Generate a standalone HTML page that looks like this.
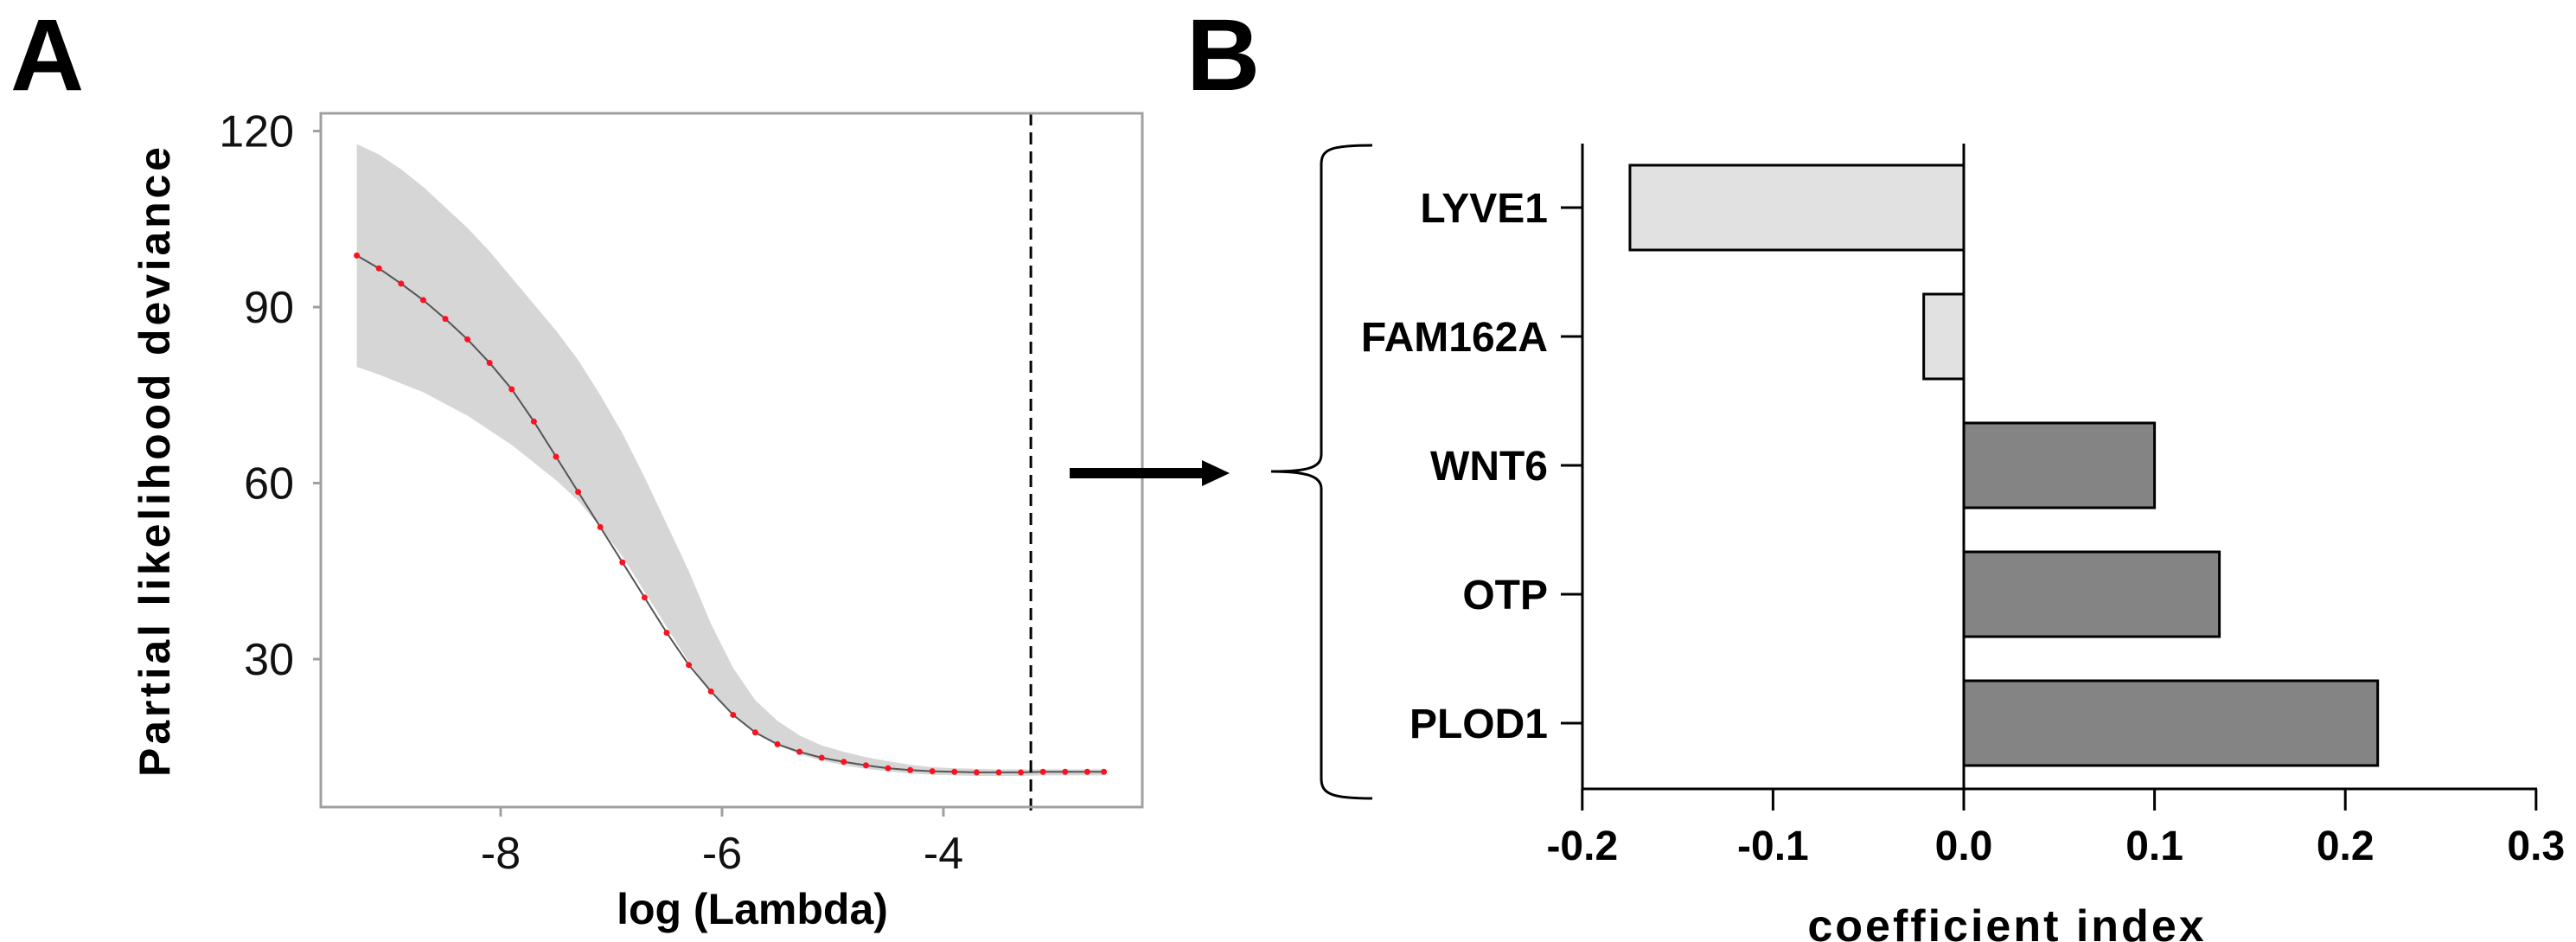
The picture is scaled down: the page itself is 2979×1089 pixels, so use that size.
<!DOCTYPE html>
<html><head><meta charset="utf-8">
<style>
html,body{margin:0;padding:0;background:#fff;}
svg{display:block;}
text{font-family:"Liberation Sans",Arial,sans-serif;}
.nar{font-family:"Liberation Sans Narrow","Liberation Sans",Arial,sans-serif;font-weight:bold;}
</style></head>
<body>
<svg id="fig" width="2979" height="1089" viewBox="0 0 2979 1089" xmlns="http://www.w3.org/2000/svg">
<text x="12" y="104" font-size="118" font-weight="bold">A</text>
<text x="1372" y="104" font-size="118" font-weight="bold">B</text>
<g id="pa"></g>
<g id="pb"></g>
<g>
<line x1="1237" y1="547" x2="1395" y2="547" stroke="#000" stroke-width="12"/>
<polygon points="1390,532 1422,547 1390,562" fill="#000"/>
</g>
</svg>
<script>
// Panel A data
const lamX = [-9.3,-9.1,-8.9,-8.7,-8.5,-8.3,-8.1,-7.9,-7.7,-7.5,-7.3,-7.1,-6.9,-6.7,-6.5,-6.3,-6.1,-5.9,-5.7,-5.5,-5.3,-5.1,-4.9,-4.7,-4.5,-4.3,-4.1,-3.9,-3.7,-3.5,-3.3,-3.1,-2.9,-2.7,-2.55];
const devMean = [98.8,96.6,94,91.2,88,84.5,80.5,76,70.5,64.5,58.5,52.5,46.5,40.5,34.5,29,24.5,20.5,17.5,15.5,14.2,13.2,12.5,11.9,11.4,11.1,10.9,10.8,10.7,10.7,10.7,10.8,10.8,10.8,10.8];
const devUpper = [117.8,116,113.5,110.5,107,103.5,99.5,95,90.5,86,81,75,68.5,61,53,45,36,28.5,23,19.5,17,15.3,14.2,13.3,12.6,12,11.6,11.4,11.3,11.2,11.2,11.2,11.2,11.2,11.2];
const devLower = [79.8,78.5,77,75.5,73.5,71.5,69,66.5,63.5,60.5,57,52.5,47.5,41.5,35.5,29.5,24.5,20.5,17.5,15.3,13.8,12.7,11.9,11.3,10.9,10.5,10.3,10.2,10.1,10.1,10.1,10.2,10.2,10.2,10.2];
const aYTicks = [30,60,90,120];
const aXTicks = [-8,-6,-4];
const lambdaMin = -3.21;

// Panel B data
const genes = ["LYVE1","FAM162A","WNT6","OTP","PLOD1"];
const coefs = [-0.175,-0.021,0.100,0.134,0.217];
const bXTicks = [-0.2,-0.1,0.0,0.1,0.2,0.3];
const bXTickLabels = ["-0.2","-0.1","0.0","0.1","0.2","0.3"];

const NS="http://www.w3.org/2000/svg";
function mk(parent,tag,attrs,txt){const e=document.createElementNS(NS,tag);for(const k in attrs)e.setAttribute(k,attrs[k]);if(txt!==undefined)e.textContent=txt;parent.appendChild(e);return e;}

// ---- Panel A ----
const pa=document.getElementById('pa');
const ax=v=>579+(v+8)*128;
const ay=v=>965.5-v*6.783;
let pts=[];
for(let i=0;i<lamX.length;i++)pts.push(ax(lamX[i])+','+ay(devUpper[i]));
for(let i=lamX.length-1;i>=0;i--)pts.push(ax(lamX[i])+','+ay(devLower[i]));
const band=mk(pa,'polygon',{points:pts.join(' '),fill:'#d6d6d6'});


const line=mk(pa,'polyline',{points:lamX.map((x,i)=>ax(x)+','+ay(devMean[i])).join(' '),fill:'none',stroke:'#555',"stroke-width":2});


lamX.forEach((x,i)=>{
  const c=mk(pa,'circle',{cx:ax(x),cy:ay(devMean[i]),r:3.5,fill:'#ff1020'});
  
  
});
const dl=mk(pa,'line',{x1:ax(lambdaMin),x2:ax(lambdaMin),y1:131,y2:944,stroke:'#000',"stroke-width":3,"stroke-dasharray":"14,8"});


const box=mk(pa,'rect',{x:371,y:131,width:950,height:802,fill:'none',stroke:'#a0a0a0',"stroke-width":3});


aYTicks.forEach(v=>{
  const y=ay(v);
  mk(pa,'line',{x1:362,x2:371,y1:y,y2:y,stroke:'#a0a0a0',"stroke-width":3});
  const t=mk(pa,'text',{x:340,y:y+18,"font-size":52,"text-anchor":"end",fill:'#111'},String(v));
  
  
});
aXTicks.forEach(v=>{
  const x=ax(v);
  mk(pa,'line',{x1:x,x2:x,y1:933,y2:944,stroke:'#a0a0a0',"stroke-width":3});
  const t=mk(pa,'text',{x:x,y:1004,"font-size":52,"text-anchor":"middle",fill:'#111'},String(v));
  
  
});
const xt=mk(pa,'text',{x:870,y:1068,"font-size":50,"font-weight":"bold","text-anchor":"middle"},'log (Lambda)');


const yt=mk(pa,'text',{x:0,y:0,"font-size":50,"font-weight":"bold","text-anchor":"middle",transform:'translate(196,534) rotate(-90)',textLength:728},'Partial likelihood deviance');



// ---- Panel B ----
const pb=document.getElementById('pb');
const bx=v=>2271+v*2206;
const by=i=>240+i*149;
const brace=mk(pb,'path',{d:'M1587,168 C1540,168 1528,172 1528,190 L1528,525 C1528,540 1515,545 1470,545 C1515,545 1528,552 1528,565 L1528,900 C1528,918 1540,923 1587,923',fill:'none',stroke:'#000',"stroke-width":3});


genes.forEach((g,i)=>{
  const v=coefs[i];
  const x0=Math.min(bx(0),bx(v)), w=Math.abs(bx(v)-bx(0));
  const r=mk(pb,'rect',{x:x0,y:by(i)-49,width:w,height:98,fill:v<0?'#e1e1e1':'#848484',stroke:'#000',"stroke-width":3});
  
  
  mk(pb,'line',{x1:1805,x2:1830,y1:by(i),y2:by(i),stroke:'#000',"stroke-width":3});
  const t=mk(pb,'text',{x:1790,y:by(i)+17,"font-size":48,"text-anchor":"end",class:'nar'},g);
  
  
});
mk(pb,'line',{x1:bx(0),x2:bx(0),y1:166,y2:912,stroke:'#000',"stroke-width":3});
const yax=mk(pb,'line',{x1:1830,x2:1830,y1:166,y2:913,stroke:'#000',"stroke-width":3});


const xax=mk(pb,'line',{x1:1829,x2:2934,y1:912,y2:912,stroke:'#000',"stroke-width":3});


bXTicks.forEach((v,i)=>{
  const x=bx(v);
  mk(pb,'line',{x1:x,x2:x,y1:912,y2:937,stroke:'#000',"stroke-width":3});
  const t=mk(pb,'text',{x:x,y:994,"font-size":48,"text-anchor":"middle",class:'nar'},bXTickLabels[i]);
  
  
});
const bt=mk(pb,'text',{x:2321,y:1088,"font-size":52,"text-anchor":"middle",class:'nar',"letter-spacing":3},'coefficient index');


</script>
</body></html>
